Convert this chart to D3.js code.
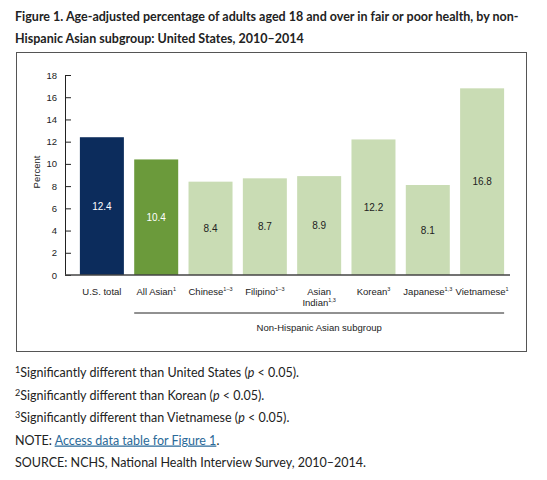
<!DOCTYPE html>
<html>
<head>
<meta charset="utf-8">
<script src="https://cdn.jsdelivr.net/npm/d3@7"></script>
<style>
  body { margin: 0; background: #fff; }
  svg text { font-family: "Liberation Sans", Arial, sans-serif; }
  .lato { font-family: Lato, "Open Sans", sans-serif; }
</style>
</head>
<body>
<svg id="chart" width="547" height="480"></svg>
<script>
// values
var categories = ["U.S. total", "All Asian", "Chinese", "Filipino", "Asian Indian", "Korean", "Japanese", "Vietnamese"];
var footMarks = ["", "1", "1\u20133", "1\u20133", "1,3", "3", "1,3", "1"];
var percents = [12.4, 10.4, 8.4, 8.7, 8.9, 12.2, 8.1, 16.8];
var yTicks = [0, 2, 4, 6, 8, 10, 12, 14, 16, 18];
var titleLines = [
  "Figure 1. Age-adjusted percentage of adults aged 18 and over in fair or poor health, by non-",
  "Hispanic Asian subgroup: United States, 2010\u20132014"
];
var notes = [
  ["1", "Significantly different than United States ("],
  ["2", "Significantly different than Korean ("],
  ["3", "Significantly different than Vietnamese ("]
];

var svg = d3.select("#chart");

// title
svg.selectAll("text.title")
  .data(titleLines)
  .enter()
  .append("text")
  .attr("class", "title lato")
  .attr("x", 15)
  .attr("y", function(d, i){ return 20.5 + i * 22.5; })
  .attr("font-size", 12.5)
  .attr("font-weight", 700)
  .attr("fill", "#222")
  .text(function(d){ return d; });

// frame round the chart
svg.append("rect")
  .attr("x", 16.5).attr("y", 52.5)
  .attr("width", 510).attr("height", 299)
  .attr("fill", "none")
  .attr("stroke", "#555")
  .attr("stroke-width", 1);

var x = d3.scaleBand()
  .domain(categories)
  .range([75, 509])
  .paddingInner(0.19)
  .paddingOuter(0.09);

var y = d3.scaleLinear()
  .domain([0, 18])
  .range([275, 75]);

function barColor(i){
  if (i === 0) return "#0c2c5c";
  if (i === 1) return "#6b9a3b";
  return "#c9dcb4";
}

// bars
svg.selectAll("rect.bar")
  .data(percents)
  .enter()
  .append("rect")
  .attr("class", "bar")
  .attr("x", function(d, i){ return x(categories[i]); })
  .attr("y", function(d){ return y(d); })
  .attr("width", x.bandwidth())
  .attr("height", function(d){ return y(0) - y(d); })
  .attr("fill", function(d, i){ return barColor(i); });

// value labels inside the bars
svg.selectAll("text.val")
  .data(percents)
  .enter()
  .append("text")
  .attr("class", "val")
  .attr("x", function(d, i){ return x(categories[i]) + x.bandwidth() / 2; })
  .attr("y", function(d){ return (y(d) + y(0)) / 2 + 3.5; })
  .attr("text-anchor", "middle")
  .attr("font-size", 10)
  .attr("fill", function(d, i){ return i < 2 ? "#fff" : "#222"; })
  .text(function(d){ return d.toFixed(1); });

// y axis
var yAxis = d3.axisLeft(y)
  .tickValues(yTicks)
  .tickSizeInner(-6)
  .tickSizeOuter(0)
  .tickPadding(8);

var gy = svg.append("g")
  .attr("transform", "translate(65,0)")
  .call(yAxis);
gy.select(".domain").attr("stroke", "#222");
gy.selectAll(".tick line").attr("stroke", "#222");
gy.selectAll(".tick text")
  .attr("font-size", 9.5)
  .attr("font-family", "Liberation Sans, Arial, sans-serif")
  .attr("fill", "#222");

svg.append("text")
  .attr("transform", "translate(40,172) rotate(-90)")
  .attr("text-anchor", "middle")
  .attr("font-size", 9.5)
  .attr("fill", "#222")
  .text("Percent");

// x baseline
svg.append("line")
  .attr("x1", 65).attr("x2", 510)
  .attr("y1", y(0)).attr("y2", y(0))
  .attr("stroke", "#444")
  .attr("stroke-width", 1.5);

// category labels
var catG = svg.selectAll("g.cat")
  .data(categories)
  .enter()
  .append("g")
  .attr("class", "cat")
  .attr("transform", function(d){ return "translate(" + (x(d) + x.bandwidth() / 2) + ",0)"; });

catG.each(function(d, i){
  var g = d3.select(this);
  var lines = d === "Asian Indian" ? ["Asian", "Indian"] : [d];
  lines.forEach(function(line, j){
    var t = g.append("text")
      .attr("y", 295 + j * 11)
      .attr("text-anchor", "middle")
      .attr("font-size", 9.5)
      .attr("fill", "#222");
    t.append("tspan").text(line);
    if (j === lines.length - 1 && footMarks[i] !== "") {
      t.append("tspan")
        .attr("font-size", 5.5)
        .attr("dy", -4)
        .text(footMarks[i]);
    }
  });
});

// group bracket
svg.append("line")
  .attr("x1", x(categories[1]))
  .attr("x2", x(categories[categories.length - 1]) + x.bandwidth())
  .attr("y1", 313).attr("y2", 313)
  .attr("stroke", "#222")
  .attr("stroke-width", 1);

svg.append("text")
  .attr("x", (x(categories[1]) + x(categories[categories.length - 1]) + x.bandwidth()) / 2)
  .attr("y", 331)
  .attr("text-anchor", "middle")
  .attr("font-size", 9.5)
  .attr("fill", "#222")
  .text("Non-Hispanic Asian subgroup");

// footnotes
var noteG = svg.append("g").attr("class", "lato");
notes.forEach(function(n, i){
  var t = noteG.append("text")
    .attr("class", "lato")
    .attr("x", 15)
    .attr("y", 377 + i * 22.5)
    .attr("font-size", 12.5)
    .attr("fill", "#222");
  t.append("tspan").attr("font-size", 9).attr("dy", -4).text(n[0]);
  t.append("tspan").attr("dy", 4).text(n[1]);
  t.append("tspan").attr("font-style", "italic").text("p");
  t.append("tspan").text(" < 0.05).");
});

var note = noteG.append("text")
  .attr("class", "lato")
  .attr("x", 15).attr("y", 444.5)
  .attr("font-size", 12.5)
  .attr("fill", "#222");
note.append("tspan").text("NOTE: ");
note.append("tspan")
  .attr("fill", "#2b6a99")
  .attr("text-decoration", "underline")
  .text("Access data table for Figure 1");
note.append("tspan").text(".");

noteG.append("text")
  .attr("class", "lato")
  .attr("x", 15).attr("y", 467)
  .attr("font-size", 12.5)
  .attr("fill", "#222")
  .text("SOURCE: NCHS, National Health Interview Survey, 2010\u20132014.");
</script>
</body>
</html>
